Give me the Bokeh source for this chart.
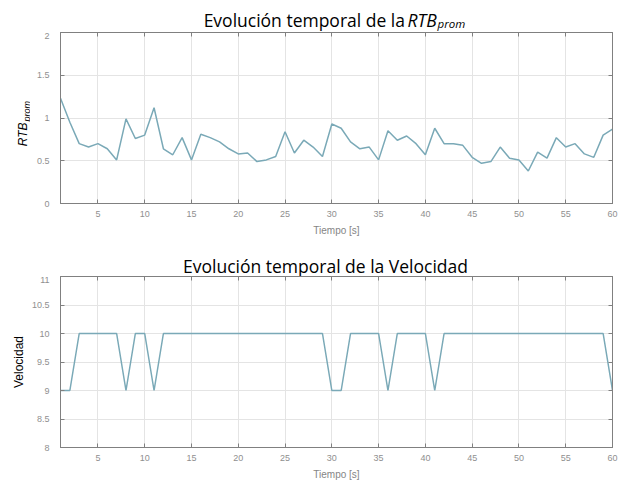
import math
from bokeh.plotting import figure
from bokeh.layouts import column, row
from bokeh.models import Label, FixedTicker, LinearAxis, Range1d
from bokeh.embed import file_html
from bokeh.resources import INLINE

# ---------------- data ----------------
tiempo = list(range(1, 61))
rtb_prom = [1.23, 0.95, 0.70, 0.66, 0.70, 0.64, 0.51, 0.99, 0.76, 0.80,
            1.12, 0.64, 0.57, 0.77, 0.51, 0.81, 0.77, 0.72, 0.64, 0.58,
            0.59, 0.49, 0.51, 0.55, 0.84, 0.59, 0.74, 0.66, 0.55, 0.93,
            0.88, 0.72, 0.64, 0.66, 0.51, 0.85, 0.74, 0.79, 0.70, 0.57,
            0.88, 0.70, 0.70, 0.68, 0.54, 0.47, 0.49, 0.66, 0.53, 0.51,
            0.38, 0.60, 0.53, 0.77, 0.66, 0.70, 0.58, 0.54, 0.80, 0.87]
velocidad = [9, 9, 10, 10, 10, 10, 10, 9, 10, 10,
             9, 10, 10, 10, 10, 10, 10, 10, 10, 10,
             10, 10, 10, 10, 10, 10, 10, 10, 10, 9,
             9, 10, 10, 10, 10, 9, 10, 10, 10, 10,
             9, 10, 10, 10, 10, 10, 10, 10, 10, 10,
             10, 10, 10, 10, 10, 10, 10, 10, 10, 9]
x_ticks = [5, 10, 15, 20, 25, 30, 35, 40, 45, 50, 55, 60]
rtb_ticks = [0, 0.5, 1, 1.5, 2]
rtb_tick_labels = ["0", "0.5", "1", "1.5", "2"]
vel_ticks = [8, 8.5, 9, 9.5, 10, 10.5, 11]
vel_tick_labels = ["8", "8.5", "9", "9.5", "10", "10.5", "11"]

titulo_base = "Evolución temporal de la "
titulo_rtb = "RTB"
titulo_sub = "prom"
titulo_vel = "Evolución temporal de la Velocidad"
etiqueta_x = "Tiempo [s]"
etiqueta_vel = "Velocidad"

LINE_COLOR = "#7aa9b7"
AXIS_COLOR = "#808080"
TICK_COLOR = "#8f8f8f"
GRID_COLOR = "#e4e4e4"
TITLE_FONT = "Open Sans"
TICK_FONT = "Liberation Sans"


def text_canvas(width, height):
    f = figure(width=width, height=height, output_backend="svg", toolbar_location=None,
               x_axis_type=None, y_axis_type=None, min_border=0,
               x_range=Range1d(0, 1), y_range=Range1d(0, 1))
    f.outline_line_color = None
    f.grid.visible = False
    return f


def box_axis(ticks):
    return LinearAxis(ticker=FixedTicker(ticks=ticks), major_label_text_font_size="1px",
                      major_label_text_color=None, major_tick_in=4, major_tick_out=0,
                      minor_tick_line_color=None, axis_line_color=AXIS_COLOR,
                      major_tick_line_color=AXIS_COLOR, major_label_standoff=0)


def make_fig(width, height, left, bottom, yr, yticks, ylabels):
    p = figure(width=width, height=height, output_backend="svg", toolbar_location=None,
               x_range=Range1d(1, 60), y_range=Range1d(*yr),
               min_border_left=left, min_border_right=10,
               min_border_top=0, min_border_bottom=bottom)
    p.outline_line_color = AXIS_COLOR
    p.xaxis.ticker = FixedTicker(ticks=x_ticks)
    p.yaxis.ticker = FixedTicker(ticks=yticks)
    p.yaxis.major_label_overrides = {t: l for t, l in zip(yticks, ylabels)}
    for ax in (p.xaxis[0], p.yaxis[0]):
        ax.axis_line_color = AXIS_COLOR
        ax.major_tick_line_color = AXIS_COLOR
        ax.major_tick_in = 4
        ax.major_tick_out = 0
        ax.minor_tick_line_color = None
        ax.major_label_text_font = TICK_FONT
        ax.major_label_text_font_size = "9px"
        ax.major_label_text_color = TICK_COLOR
    p.xaxis[0].major_label_standoff = 7
    p.yaxis[0].major_label_standoff = 11
    p.xaxis.axis_label = etiqueta_x
    p.xaxis.axis_label_text_font = TICK_FONT
    p.xaxis.axis_label_text_font_size = "10px"
    p.xaxis.axis_label_text_font_style = "normal"
    p.xaxis.axis_label_text_color = "#858585"
    p.xaxis.axis_label_standoff = 5
    p.add_layout(box_axis(x_ticks), "above")
    p.add_layout(box_axis(yticks), "right")
    p.xgrid.grid_line_color = GRID_COLOR
    p.ygrid.grid_line_color = GRID_COLOR
    p.xgrid.ticker = FixedTicker(ticks=x_ticks)
    p.ygrid.ticker = FixedTicker(ticks=yticks)
    return p


# ---------------- top title (frame aligned with plot frame: left edge at 60px) ----------------
t1 = text_canvas(622, 32)
split_x = 349
t1.add_layout(Label(x=split_x, y=13, x_units="screen", y_units="screen", text=titulo_base,
                    text_align="right", text_baseline="alphabetic", text_font=TITLE_FONT,
                    text_font_size="17.5px", text_color="black"))
t1.add_layout(Label(x=split_x - 2, y=13, x_units="screen", y_units="screen", text=titulo_rtb,
                    text_align="left", text_baseline="alphabetic", text_font=TITLE_FONT,
                    text_font_size="17.5px", text_font_style="italic", text_color="black"))
t1.add_layout(Label(x=split_x + 28, y=9, x_units="screen", y_units="screen", text=titulo_sub,
                    text_align="left", text_baseline="alphabetic", text_font=TITLE_FONT,
                    text_font_size="11.5px", text_font_style="italic", text_color="black"))

# ---------------- top y label (frame aligned with plot frame) ----------------
l1 = text_canvas(30, 208)
l1.add_layout(Label(x=22, y=81, x_units="screen", y_units="screen", text=titulo_rtb,
                    angle=math.pi / 2, text_align="right", text_baseline="alphabetic",
                    text_font=TICK_FONT, text_font_size="12px", text_font_style="italic",
                    text_color="black"))
l1.add_layout(Label(x=26, y=82, x_units="screen", y_units="screen", text=titulo_sub,
                    angle=math.pi / 2, text_align="left", text_baseline="alphabetic",
                    text_font=TICK_FONT, text_font_size="9px", text_font_style="italic",
                    text_color="black"))

# ---------------- top chart ----------------
p1 = make_fig(592, 208, 30, 37, (0, 2), rtb_ticks, rtb_tick_labels)
p1.line(tiempo, rtb_prom, line_color=LINE_COLOR, line_width=1.5)

# ---------------- bottom title ----------------
t2 = text_canvas(622, 36)
t2.add_layout(Label(x=265, y=11, x_units="screen", y_units="screen", text=titulo_vel,
                    text_align="center", text_baseline="alphabetic", text_font=TITLE_FONT,
                    text_font_size="17.5px", text_color="black"))

# ---------------- bottom chart ----------------
p2 = make_fig(622, 207, 60, 36, (8, 11), vel_ticks, vel_tick_labels)
p2.line(tiempo, velocidad, line_color=LINE_COLOR, line_width=1.5)
p2.yaxis[0].axis_label = etiqueta_vel
p2.yaxis[0].axis_label_text_font = TICK_FONT
p2.yaxis[0].axis_label_text_font_size = "12px"
p2.yaxis[0].axis_label_text_font_style = "normal"
p2.yaxis[0].axis_label_text_color = "black"
p2.yaxis[0].axis_label_standoff = 3

layout = column(t1, row(l1, p1, spacing=0), t2, p2, spacing=0)
open("out.html", "w").write(file_html(layout, INLINE))
